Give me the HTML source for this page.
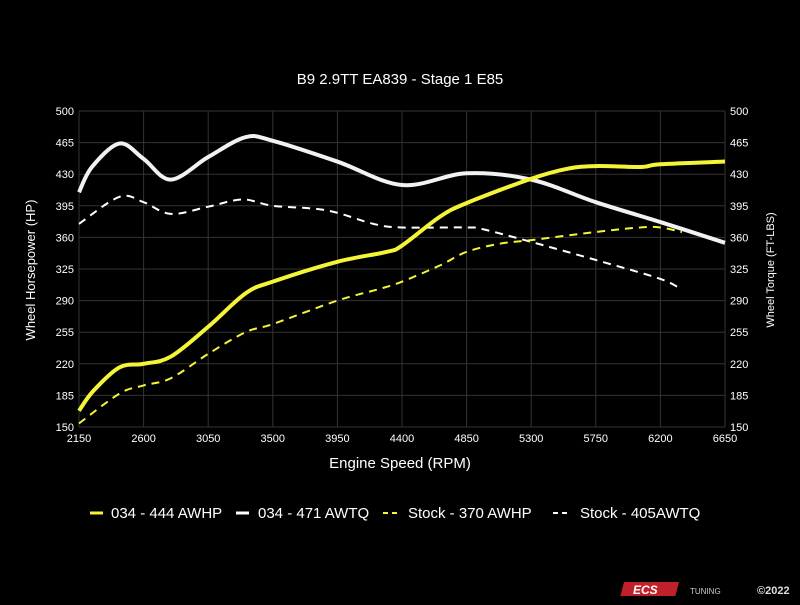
<!DOCTYPE html>
<html><head><meta charset="utf-8"><style>
body{margin:0;background:#000;width:800px;height:600px;overflow:hidden;font-family:"Liberation Sans",sans-serif}
</style></head><body>
<svg id="chart" width="800" height="600" xmlns="http://www.w3.org/2000/svg" style="font-family:'Liberation Sans',sans-serif">
<rect width="800" height="600" fill="#000"/>
<text x="400" y="84" fill="#fff" font-size="15" text-anchor="middle">B9 2.9TT EA839 - Stage 1 E85</text>
<g id="grid"></g><g id="axes"></g><g id="series"></g>
<text x="400" y="468" fill="#fff" font-size="15" text-anchor="middle">Engine Speed (RPM)</text>
<text transform="translate(35,270) rotate(-90)" fill="#fff" font-size="13" text-anchor="middle">Wheel Horsepower (HP)</text>
<text transform="translate(774,270) rotate(-90)" fill="#fff" font-size="11" text-anchor="middle">Wheel Torque (FT-LBS)</text>
<g font-size="15" fill="#fff">
<g><line x1="90" y1="513" x2="103" y2="513" stroke="#f5f538" stroke-width="3"/><text x="111" y="518">034 - 444 AWHP</text></g>
<g><line x1="236" y1="513" x2="249" y2="513" stroke="#fff" stroke-width="3"/><text x="258" y="518">034 - 471 AWTQ</text></g>
<g><line x1="383" y1="513" x2="398" y2="513" stroke="#f5f538" stroke-width="2" stroke-dasharray="5,4"/><text x="408" y="518">Stock - 370 AWHP</text></g>
<g><line x1="553" y1="513" x2="568" y2="513" stroke="#fff" stroke-width="2" stroke-dasharray="5,4"/><text x="580" y="518">Stock - 405AWTQ</text></g>
</g>
<g>
<rect x="625" y="582" width="55" height="14" fill="#c0202a" transform="skewX(-15) translate(155,0)"/>
<text x="633" y="594" fill="#fff" font-size="12" font-weight="bold" font-style="italic">ECS</text>
<text x="690" y="594" fill="#ccc" font-size="8">TUNING</text>
<text x="757" y="594" fill="#ddd" font-size="11" font-weight="bold">©2022</text>
</g>
</svg>
<script>
const xTicks=[2150,2600,3050,3500,3950,4400,4850,5300,5750,6200,6650];
const yTicks=[150,185,220,255,290,325,360,395,430,465,500];
const hp034Rpm=[2150,2250,2432,2600,2790,3050,3310,3500,3950,4295,4400,4665,4850,5300,5550,5750,6060,6200,6650];
const hp034=[168,190,216,220,228,261,298,311,333,344,351,383,398,425,436,439,438,441,444];
const tq034Rpm=[2150,2240,2432,2600,2790,3050,3310,3500,3950,4400,4850,5300,5750,6200,6650];
const tq034=[410,438,464,447,424,449,471,467,444,418,431,424,399,377,354];
const hpStockRpm=[2150,2432,2600,2790,3050,3310,3500,3950,4245,4400,4665,4850,5080,5300,5750,6060,6200,6350];
const hpStock=[154,187,196,204,231,255,264,290,303,311,329,344,353,357,366,371,371,366];
const tqStockRpm=[2150,2432,2600,2790,3050,3290,3500,3875,4200,4400,4850,4965,5300,5750,6200,6350];
const tqStock=[375,405,399,386,394,402,395,390,375,371,371,369,355,335,314,302];
const L=79,R=725,T=111,B=427;
const xs=r=>L+(r-2150)/(6650-2150)*(R-L);
const ys=v=>B-(v-150)/(500-150)*(B-T);
const NS="http://www.w3.org/2000/svg";
function mk(t,a,p){const e=document.createElementNS(NS,t);for(const k in a)e.setAttribute(k,a[k]);p.appendChild(e);return e;}
const grid=document.getElementById('grid'),axes=document.getElementById('axes'),ser=document.getElementById('series');
xTicks.forEach(t=>{
 const g=mk('line',{x1:xs(t),x2:xs(t),y1:T,y2:B,stroke:'#333','stroke-width':1},grid);
 
 
 const tx=mk('text',{x:xs(t),y:B+15,fill:'#fff','font-size':11,'text-anchor':'middle'},axes);tx.textContent=t;
 
 
});
yTicks.forEach(t=>{
 const g=mk('line',{x1:L,x2:R,y1:ys(t),y2:ys(t),stroke:'#333','stroke-width':1},grid);
 
 
 const a=mk('text',{x:L-5,y:ys(t)+4,fill:'#fff','font-size':11,'text-anchor':'end'},axes);a.textContent=t;
 
 
 const b=mk('text',{x:R+5,y:ys(t)+4,fill:'#fff','font-size':11,'text-anchor':'start'},axes);b.textContent=t;
 
 
});
function path(rx,vals){
 const p=rx.map((r,i)=>[xs(r),ys(vals[i])]);
 let d='M'+p[0][0]+','+p[0][1];
 for(let i=0;i<p.length-1;i++){
  const p0=p[Math.max(0,i-1)],p1=p[i],p2=p[i+1],p3=p[Math.min(p.length-1,i+2)];
  const c1=[p1[0]+(p2[0]-p0[0])/6,p1[1]+(p2[1]-p0[1])/6],c2=[p2[0]-(p3[0]-p1[0])/6,p2[1]-(p3[1]-p1[1])/6];
  d+=`C${c1[0]},${c1[1]} ${c2[0]},${c2[1]} ${p2[0]},${p2[1]}`;
 }
 return d;
}
const s1=mk('path',{d:path(tqStockRpm,tqStock),fill:'none',stroke:'#fff','stroke-width':2,'stroke-dasharray':'8,6'},ser);


const s2=mk('path',{d:path(hpStockRpm,hpStock),fill:'none',stroke:'#f5f538','stroke-width':2,'stroke-dasharray':'8,6'},ser);


const s3=mk('path',{d:path(tq034Rpm,tq034),fill:'none',stroke:'#f2f2f2','stroke-width':4},ser);


const s4=mk('path',{d:path(hp034Rpm,hp034),fill:'none',stroke:'#f5f538','stroke-width':4},ser);


</script>
</body></html>
